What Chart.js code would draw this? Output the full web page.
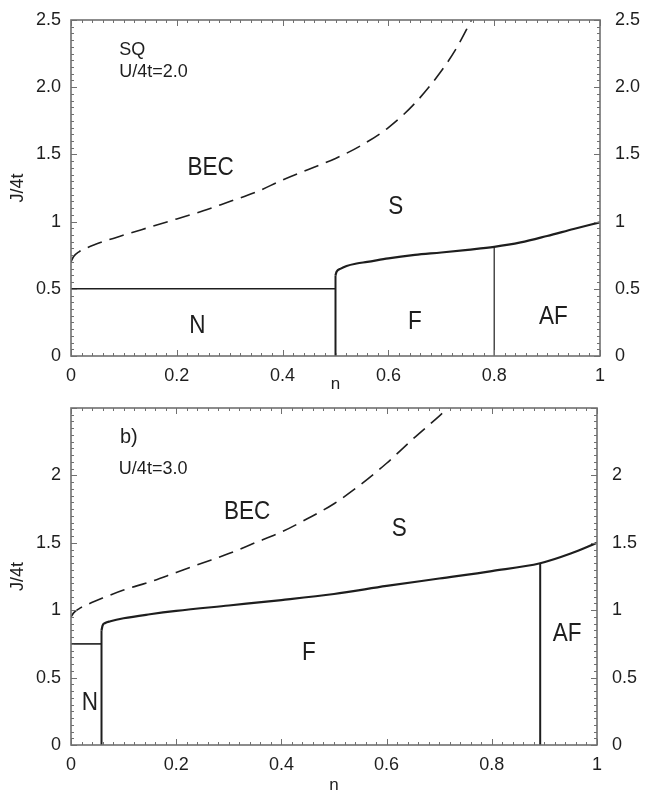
<!DOCTYPE html>
<html>
<head>
<meta charset="utf-8">
<script src="https://cdn.jsdelivr.net/npm/chart.js@4.4.1/dist/chart.umd.min.js"></script>
<style>
  html, body { margin: 0; padding: 0; background: #fff; }
  canvas { display: block; }
</style>
</head>
<body>
<canvas id="panelA" width="646" height="400"></canvas>
<canvas id="panelB" width="646" height="394"></canvas>
<script>
// axis ticks
const nTicks = [0, 0.2, 0.4, 0.6, 0.8, 1];
const nTickLabels = ['0', '0.2', '0.4', '0.6', '0.8', '1'];
const jTicks = [0, 0.5, 1, 1.5, 2, 2.5];
const jTickLabelsA = ['0', '0.5', '1', '1.5', '2.0', '2.5'];
const jTickLabelsB = ['0', '0.5', '1', '1.5', '2', ''];

// panel a) U/4t = 2.0
const becN_A = [0, 0.005, 0.015, 0.03, 0.06, 0.1, 0.15, 0.2, 0.25, 0.3, 0.35, 0.4, 0.45, 0.5, 0.55, 0.6, 0.65, 0.7, 0.73, 0.757];
const becJ_A = [0.70, 0.74, 0.775, 0.805, 0.85, 0.9, 0.96, 1.02, 1.08, 1.15, 1.22, 1.31, 1.39, 1.47, 1.57, 1.70, 1.88, 2.12, 2.30, 2.5];
const fBoundN_A = [0.5, 0.502, 0.51, 0.521, 0.54, 0.56, 0.6, 0.65, 0.7, 0.75, 0.8, 0.85, 0.9, 0.95, 1.0];
const fBoundJ_A = [0.6, 0.627, 0.65, 0.67, 0.688, 0.70, 0.727, 0.752, 0.77, 0.79, 0.812, 0.845, 0.893, 0.945, 0.995];
const nLineN_A = [0, 0.5];
const nLineJ_A = [0.5, 0.5];
const fEdgeN_A = [0.5, 0.5];
const fEdgeJ_A = [0, 0.6];
const afEdgeN_A = [0.8, 0.8];
const afEdgeJ_A = [0, 0.812];

// panel b) U/4t = 3.0
const becN_B = [0, 0.005, 0.015, 0.03, 0.06, 0.1, 0.15, 0.2, 0.25, 0.3, 0.35, 0.4, 0.45, 0.5, 0.55, 0.6, 0.65, 0.7, 0.717];
const becJ_B = [0.95, 0.98, 1.01, 1.04, 1.09, 1.15, 1.21, 1.28, 1.35, 1.42, 1.50, 1.58, 1.68, 1.79, 1.93, 2.09, 2.27, 2.44, 2.5];
const fBoundN_B = [0.058, 0.06, 0.065, 0.075, 0.1, 0.15, 0.2, 0.3, 0.4, 0.5, 0.6, 0.7, 0.8, 0.892, 0.95, 1.0];
const fBoundJ_B = [0.85, 0.885, 0.905, 0.918, 0.94, 0.97, 0.995, 1.035, 1.075, 1.12, 1.18, 1.235, 1.29, 1.348, 1.42, 1.5];
const nLineN_B = [0, 0.058];
const nLineJ_B = [0.75, 0.75];
const fEdgeN_B = [0.058, 0.058];
const fEdgeJ_B = [0, 0.85];
const afEdgeN_B = [0.892, 0.892];
const afEdgeJ_B = [0, 1.348];

// phase labels, placed in (n, J/4t)
const labelsA = [
  { text: 'SQ', n: 0.091, j: 2.28, size: 18, align: 'left' },
  { text: 'U/4t=2.0', n: 0.091, j: 2.11, size: 18, align: 'left' },
  { text: 'BEC', n: 0.264, j: 1.40, size: 25, narrow: true },
  { text: 'S', n: 0.614, j: 1.11, size: 25, narrow: true },
  { text: 'N', n: 0.239, j: 0.22, size: 25, narrow: true },
  { text: 'F', n: 0.65, j: 0.254, size: 25, narrow: true },
  { text: 'AF', n: 0.912, j: 0.29, size: 25, narrow: true }
];
const labelsB = [
  { text: 'b)', n: 0.093, j: 2.28, size: 20, align: 'left' },
  { text: 'U/4t=3.0', n: 0.091, j: 2.05, size: 18, align: 'left' },
  { text: 'BEC', n: 0.335, j: 1.73, size: 25, narrow: true },
  { text: 'S', n: 0.624, j: 1.60, size: 25, narrow: true },
  { text: 'F', n: 0.452, j: 0.68, size: 25, narrow: true },
  { text: 'N', n: 0.036, j: 0.31, size: 25, narrow: true },
  { text: 'AF', n: 0.943, j: 0.82, size: 25, narrow: true }
];

const FONT = "'Liberation Sans', Arial, sans-serif";
const INK = '#1e1e1e';
const FRAME = '#707070';

const zip = (xs, ys) => xs.map((x, i) => ({ x: x, y: ys[i] }));

// box with inward major/minor ticks on all four sides
const frameTicks = {
  id: 'frameTicks',
  afterDatasetsDraw(chart) {
    const { ctx, chartArea: a, scales: { x, y } } = chart;
    ctx.save();
    ctx.strokeStyle = FRAME;
    ctx.lineWidth = 1;
    ctx.beginPath();
    for (let i = 0; i <= 50; i++) {
      const px = Math.round(x.getPixelForValue(i * 0.02)) + 0.5;
      const len = i % 10 === 0 ? 6 : 3;
      ctx.moveTo(px, a.bottom); ctx.lineTo(px, a.bottom - len);
      ctx.moveTo(px, a.top); ctx.lineTo(px, a.top + len);
    }
    for (let i = 0; i <= 50; i++) {
      const py = Math.round(y.getPixelForValue(i * 0.05)) + 0.5;
      const len = i % 10 === 0 ? 6 : 3;
      ctx.moveTo(a.left, py); ctx.lineTo(a.left + len, py);
      ctx.moveTo(a.right, py); ctx.lineTo(a.right - len, py);
    }
    ctx.stroke();
    ctx.lineWidth = 1.6;
    ctx.strokeRect(a.left, a.top, a.right - a.left, a.bottom - a.top);
    ctx.restore();
  }
};

const regionText = {
  id: 'regionText',
  afterDraw(chart, args, opts) {
    const { ctx, scales: { x, y } } = chart;
    ctx.save();
    ctx.fillStyle = INK;
    ctx.textBaseline = 'middle';
    (opts.items || []).forEach(t => {
      const sx = t.narrow ? 0.9 : 1;
      ctx.save();
      ctx.translate(x.getPixelForValue(t.n), y.getPixelForValue(t.j));
      ctx.scale(sx, 1);
      ctx.font = t.size + 'px ' + FONT;
      ctx.textAlign = t.align || 'center';
      ctx.fillText(t.text, 0, 0);
      ctx.restore();
    });
    ctx.restore();
  }
};

function lineSet(points, width, dash) {
  return {
    data: points,
    showLine: true,
    pointRadius: 0,
    borderColor: INK,
    borderWidth: width,
    borderDash: dash || [],
    fill: false,
    tension: 0
  };
}

function curveSet(points, width, dash) {
  const ds = lineSet(points, width, dash);
  ds.cubicInterpolationMode = 'monotone';
  return ds;
}

// keep the plot box where we want it: no extra room for edge labels
function fixVertical(width) {
  return s => { s.width = width; s.paddingTop = 0; s.paddingBottom = 0; };
}

function drawPanel(id, p) {
  const tickFont = { family: FONT, size: 18 };
  new Chart(document.getElementById(id), {
    type: 'scatter',
    data: { datasets: p.datasets },
    options: {
      responsive: false,
      animation: false,
      layout: { padding: { top: p.padTop, left: 0, right: 0, bottom: 0 } },
      plugins: {
        legend: { display: false },
        tooltip: { enabled: false },
        regionText: { items: p.labels }
      },
      scales: {
        x: {
          type: 'linear', min: 0, max: 1,
          afterBuildTicks: s => { s.ticks = nTicks.map(v => ({ value: v })); },
          ticks: {
            autoSkip: false, maxRotation: 0, padding: 9, color: INK, font: tickFont,
            callback: v => nTickLabels[nTicks.indexOf(v)]
          },
          grid: { display: false, drawTicks: false },
          border: { display: false },
          title: {
            display: true, text: 'n', color: INK,
            font: { family: FONT, size: 17, lineHeight: 1 },
            padding: { top: 0, bottom: p.nTitlePad }
          },
          afterFit: s => { s.height = p.xHeight; s.paddingLeft = 0; s.paddingRight = 0; }
        },
        y: {
          type: 'linear', position: 'left', min: 0, max: 2.5,
          afterBuildTicks: s => { s.ticks = jTicks.map(v => ({ value: v })); },
          ticks: {
            autoSkip: false, padding: 10, color: INK, font: tickFont,
            callback: v => p.jLabels[jTicks.indexOf(v)]
          },
          grid: { display: false, drawTicks: false },
          border: { display: false },
          title: { display: true, text: 'J/4t', color: INK, font: { family: FONT, size: 18 }, padding: { top: 7, bottom: 0 } },
          afterFit: fixVertical(71)
        },
        y2: {
          type: 'linear', position: 'right', min: 0, max: 2.5,
          afterBuildTicks: s => { s.ticks = jTicks.map(v => ({ value: v })); },
          ticks: {
            autoSkip: false, padding: 15, color: INK, font: tickFont,
            callback: v => p.jLabels[jTicks.indexOf(v)]
          },
          grid: { display: false, drawTicks: false },
          border: { display: false },
          afterFit: fixVertical(p.rightWidth)
        }
      }
    },
    plugins: [frameTicks, regionText]
  });
}

drawPanel('panelA', {
  padTop: 20,
  xHeight: 44,
  nTitlePad: 7,
  rightWidth: 46,
  jLabels: jTickLabelsA,
  labels: labelsA,
  datasets: [
    curveSet(zip(becN_A, becJ_A), 1.6, [15, 8]),
    lineSet(zip(nLineN_A, nLineJ_A), 1.6),
    lineSet(zip(fEdgeN_A, fEdgeJ_A), 2),
    curveSet(zip(fBoundN_A, fBoundJ_A), 2.2),
    lineSet(zip(afEdgeN_A, afEdgeJ_A), 1.2)
  ]
});

drawPanel('panelB', {
  padTop: 8,
  xHeight: 49,
  nTitlePad: 0,
  rightWidth: 49,
  jLabels: jTickLabelsB,
  labels: labelsB,
  datasets: [
    curveSet(zip(becN_B, becJ_B), 1.6, [15, 8]),
    lineSet(zip(nLineN_B, nLineJ_B), 1.6),
    lineSet(zip(fEdgeN_B, fEdgeJ_B), 2),
    curveSet(zip(fBoundN_B, fBoundJ_B), 2.2),
    lineSet(zip(afEdgeN_B, afEdgeJ_B), 2)
  ]
});
</script>
</body>
</html>
